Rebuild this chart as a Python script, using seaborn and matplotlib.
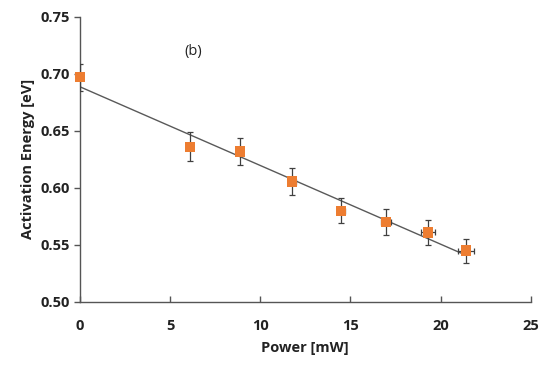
import numpy as np
import pandas as pd
import seaborn as sns
import matplotlib
matplotlib.use("Agg")
import matplotlib.pyplot as plt

power = [0.0, 6.1, 8.9, 11.76, 14.5, 16.98, 19.3, 21.4]
energy = [0.697, 0.636, 0.632, 0.6055, 0.580, 0.5704, 0.561, 0.545]
energy_err = [0.012, 0.0127, 0.012, 0.0117, 0.011, 0.0115, 0.011, 0.0105]
power_err = [0.0, 0.0, 0.0, 0.2, 0.2, 0.3, 0.4, 0.45]

sns.set_theme(style="white")
plt.rcParams['font.family'] = ['Open Sans', 'DejaVu Sans']

df = pd.DataFrame({'Power': power, 'Energy': energy})

# linear fit through the points
slope, intercept = np.polyfit(power, energy, 1)
fit = pd.DataFrame({'Power': [0.0, power[-1]]})
fit['Energy'] = intercept + slope * fit['Power']

fig = plt.figure(figsize=(5.5, 3.66), dpi=100)
ax = fig.add_axes([0.145, 0.175, 0.82, 0.779])

sns.lineplot(data=fit, x='Power', y='Energy', color='#595959', linewidth=1.0, ax=ax, zorder=2)
ax.errorbar(power, energy, yerr=energy_err, xerr=power_err, fmt='none',
            ecolor='#404040', elinewidth=0.9, capsize=2.5, capthick=0.9, zorder=3)
sns.scatterplot(data=df, x='Power', y='Energy', marker='s', s=55, color='#ED7D31',
                edgecolor='none', ax=ax, zorder=4, clip_on=False)

ax.text(6.3, 0.720, '(b)', fontsize=10.5, ha='center', va='center', color='#222222')

ax.set_xlim(0, 25)
ax.set_ylim(0.50, 0.75)
ax.set_xticks([0, 5, 10, 15, 20, 25])
ax.set_yticks([0.50, 0.55, 0.60, 0.65, 0.70, 0.75])
ax.set_yticklabels([f'{v:.2f}' for v in [0.50, 0.55, 0.60, 0.65, 0.70, 0.75]])
ax.set_xlabel('Power [mW]', fontsize=10.5, fontweight='bold', color='#222222', labelpad=6)
ax.set_ylabel('Activation Energy [eV]', fontsize=10.5, fontweight='bold', color='#222222')

for lab in ax.get_xticklabels() + ax.get_yticklabels():
    lab.set_fontweight('bold')
    lab.set_fontsize(10.5)
    lab.set_color('#222222')

sns.despine(ax=ax)
for sp in ['left', 'bottom']:
    ax.spines[sp].set_color('#555555')
    ax.spines[sp].set_linewidth(1.0)
ax.tick_params(axis='y', direction='out', length=4, width=1, color='#555555', pad=3, left=True)
ax.tick_params(axis='x', direction='in', length=4, width=1, color='#555555', pad=12, bottom=True)

fig.savefig('out.png', dpi=100)
